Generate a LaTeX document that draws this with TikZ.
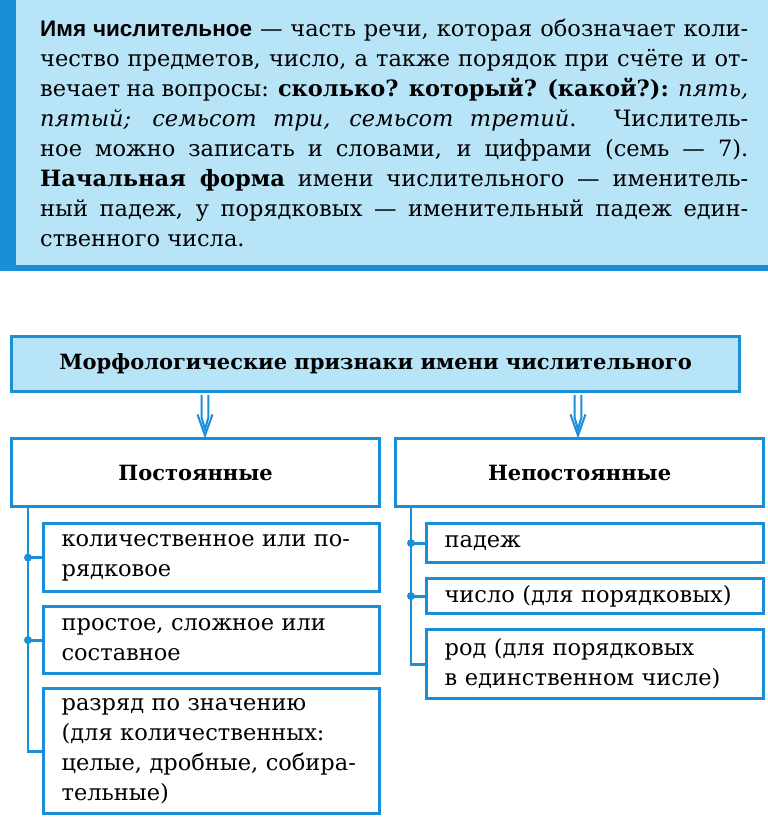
\documentclass[tikz,border=0pt]{standalone}
\usepackage{fontspec}
\setmainfont{DejaVu Serif}
\newfontfamily\termfont{Liberation Sans}
\usetikzlibrary{calc}
\definecolor{bblue}{HTML}{1A8FD8}
\definecolor{lblue}{HTML}{B8E4F8}
\newcommand{\jline}[1]{\makebox[708pt][s]{#1}}
\begin{document}
\begin{tikzpicture}[x=1pt,y=-1pt,
  txt/.style={anchor=base west, inner sep=0pt, font=\fontsize{22.5}{30}\selectfont},
  frame/.style={draw=bblue, line width=3.2pt, fill=white, anchor=north west, inner sep=0pt},
  headbox/.style={frame, fill=lblue, font=\fontsize{21}{30}\selectfont\bfseries},
  kindbox/.style={frame, font=\fontsize{21}{30}\selectfont\bfseries},
  itembox/.style={frame, inner xsep=18pt, align=left, font=\fontsize{22.5}{30}\selectfont},
  conn/.style={draw=bblue, line width=2.8pt},
  dotc/.style={fill=bblue},
  arrline/.style={draw=bblue, line width=2pt, line join=miter}
]
\useasboundingbox (0,0) rectangle (768,817);
% top definition panel
\fill[lblue] (0,0) rectangle (768,268);
\fill[bblue] (0,0) rectangle (16,271);
\fill[bblue] (0,265) rectangle (768,271);
\node[txt] (l1) at (40,36) {\jline{{\termfont\bfseries Имя числительное} — часть речи, которая обозначает коли-}};
\node[txt] (l2) at (40,66) {\jline{чество предметов, число, а также порядок при счёте и от-}};
\node[txt] (l3) at (40,96) {\jline{вечает на вопросы: \textbf{сколько? который? (какой?):} \textit{пять,}}};
\node[txt] (l4) at (40,126) {\jline{\textit{пятый; семьсот три, семьсот третий}. Числитель-}};
\node[txt] (l5) at (40,156) {\jline{ное можно записать и словами, и цифрами (семь — 7).}};
\node[txt] (l6) at (40,186) {\jline{\textbf{Начальная форма} имени числительного — именитель-}};
\node[txt] (l7) at (40,216) {\jline{ный падеж, у порядковых — именительный падеж един-}};
\node[txt] (l8) at (40,246) {ственного числа.};
% diagram
\node[headbox, minimum width=728pt, minimum height=55pt] (hdr) at (10,335) {Морфологические признаки имени числительного};
\node[kindbox, minimum width=368pt, minimum height=68pt] (post) at (10,437) {Постоянные};
\node[kindbox, minimum width=368pt, minimum height=68pt] (npost) at (394,437) {Непостоянные};
\node[itembox, text width=300pt, minimum height=68pt] (b1) at (42,522) {количественное или по-\\рядковое};
\node[itembox, text width=300pt, minimum height=67pt] (b2) at (42,605) {простое, сложное или\\составное};
\node[itembox, text width=300pt, minimum height=125pt] (b3) at (42,687) {разряд по значению\\(для количественных:\\целые, дробные, собира-\\тельные)};
\node[itembox, text width=301pt, minimum height=39pt] (r1) at (425,522) {падеж};
\node[itembox, text width=301pt, minimum height=35pt] (r2) at (425,577) {число (для порядковых)};
\node[itembox, text width=301pt, minimum height=69pt] (r3) at (425,628) {род (для порядковых\\в единственном числе)};
% hollow arrows
\coordinate (la) at (205,0);
\coordinate (ra) at (578,0);
\foreach \c/\b in {la/post, ra/npost}{
  \coordinate (s) at ($(\c |- hdr.south)+(0,1.6)$);
  \coordinate (t) at ($(\c |- \b.north)+(0,-1.6)$);
  \draw[arrline] ($(s)+(-3.4,0)$) -- ($(t)+(-3.4,-18)$) -- ($(t)+(0,-6)$) -- ($(t)+(3.4,-18)$) -- ($(s)+(3.4,0)$);
  \draw[arrline] ($(t)+(-7.5,-21)$) -- (t) -- ($(t)+(7.5,-21)$);
}
% branches
\coordinate (lx) at (28,0);
\coordinate (rx) at (411,0);
\draw[conn] (lx |- post.south) |- (b3.west);
\draw[conn] (lx |- b1.west) -- (b1.west);
\draw[conn] (lx |- b2.west) -- (b2.west);
\fill[dotc] (lx |- b1.west) circle (4pt);
\fill[dotc] (lx |- b2.west) circle (4pt);
\draw[conn] (rx |- npost.south) |- (r3.west);
\draw[conn] (rx |- r1.west) -- (r1.west);
\draw[conn] (rx |- r2.west) -- (r2.west);
\fill[dotc] (rx |- r1.west) circle (4pt);
\fill[dotc] (rx |- r2.west) circle (4pt);
\end{tikzpicture}
\end{document}
